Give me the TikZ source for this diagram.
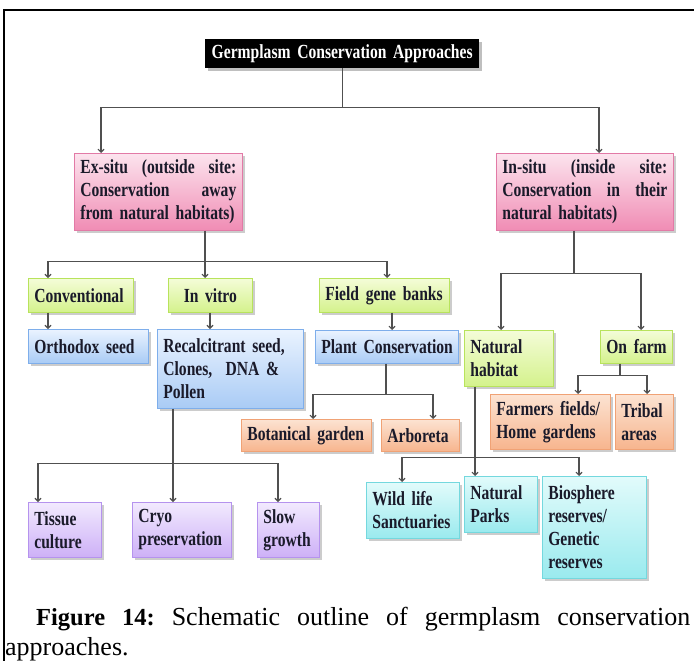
\documentclass[tikz,border=0pt]{standalone}
\usepackage{fontspec}
\setmainfont{Liberation Serif}
\newfontfamily\boxfont[FakeStretch=0.78]{Liberation Serif}
\usetikzlibrary{arrows.meta,shadows,calc}
\hyphenpenalty=10000
\exhyphenpenalty=10000
\newcommand\boxsp{\spaceskip=4pt plus 2pt minus 1pt\relax}
\definecolor{linec}{HTML}{505050}
\definecolor{txt}{HTML}{1A1A2A}
\definecolor{pinkD}{HTML}{E27AA6}\definecolor{pinkT}{HTML}{FCE4EE}\definecolor{pinkB}{HTML}{F08CB4}
\definecolor{greenD}{HTML}{B8E35C}\definecolor{greenT}{HTML}{F4FCD8}\definecolor{greenB}{HTML}{D4F28C}
\definecolor{blueD}{HTML}{7EAEEB}\definecolor{blueT}{HTML}{EAF3FF}\definecolor{blueB}{HTML}{A9CBF5}
\definecolor{orangeD}{HTML}{F0A275}\definecolor{orangeT}{HTML}{FCE3D2}\definecolor{orangeB}{HTML}{F7B58E}
\definecolor{purpleD}{HTML}{B593EE}\definecolor{purpleT}{HTML}{F2EAFE}\definecolor{purpleB}{HTML}{CDB0F7}
\definecolor{cyanD}{HTML}{74D8DE}\definecolor{cyanT}{HTML}{E2FBFB}\definecolor{cyanB}{HTML}{9AEAEE}
\newcommand\mybox[7]{%
  \pgfmathsetmacro\bw{#5-#3}%
  \pgfmathsetmacro\bh{#6-#4}%
  \pgfmathsetmacro\tw{#5-#3-12}%
  \node[#2, anchor=north west, minimum width=\bw pt, minimum height=\bh pt,
        text width=\tw pt, inner xsep=6pt, inner ysep=1pt] (#1) at (#3,#4) {#7};}
\tikzset{
  bx/.style={draw, line width=0.7pt, align=left, text=txt,
    drop shadow={shadow xshift=2.5pt, shadow yshift=-2.5pt, fill=black, opacity=0.2}},
  pinkbox/.style={bx, draw=pinkD, top color=pinkT, bottom color=pinkB},
  greenbox/.style={bx, draw=greenD, top color=greenT, bottom color=greenB},
  bluebox/.style={bx, draw=blueD, top color=blueT, bottom color=blueB},
  orangebox/.style={bx, draw=orangeD, top color=orangeT, bottom color=orangeB},
  purplebox/.style={bx, draw=purpleD, top color=purpleT, bottom color=purpleB},
  cyanbox/.style={bx, draw=cyanD, top color=cyanT, bottom color=cyanB},
  titlebox/.style={fill=black, text=white, align=center,
    drop shadow={shadow xshift=2.5pt, shadow yshift=-2.5pt, fill=black, opacity=0.25}},
  ln/.style={draw=linec, line width=1.1pt},
  arr/.style={ln, -{Straight Barb[length=3pt,width=6pt]}}
}
\begin{document}
\begin{tikzpicture}[x=1pt,y=-1pt, font=\boxfont\bfseries\fontsize{20}{23}\selectfont\boxsp]
\useasboundingbox[fill=white] (0,0) rectangle (694,661);
\draw[line width=1.3pt] (4,661) -- (4,10) -- (694,10);

\mybox{title}{titlebox}{205}{39}{479}{68}{Germplasm Conservation Approaches}
\mybox{exsitu}{pinkbox}{74}{153}{242}{230}{Ex-situ\hfill(outside\hfill site:\\Conservation\hfill away\\from natural habitats)}
\mybox{insitu}{pinkbox}{496}{153}{673}{230}{In-situ\hfill(inside\hfill site:\\Conservation\hfill in\hfill their\\natural habitats)}

\mybox{conv}{greenbox}{28}{278}{133}{312}{Conventional}
\mybox{invitro}{greenbox}{168}{278}{252}{312}{\hfill In vitro\hfill\null}
\mybox{field}{greenbox}{319}{278}{449}{312}{Field~gene~banks}

\mybox{orth}{bluebox}{28}{329}{148}{363}{Orthodox~seed}
\mybox{recal}{bluebox}{157}{329}{303}{408}{Recalcitrant~seed,\\Clones, \ DNA~\&\\Pollen}
\mybox{plant}{bluebox}{315}{330}{458}{363}{Plant~Conservation}

\mybox{bot}{orangebox}{241}{419}{371}{451}{Botanical~garden}
\mybox{arb}{orangebox}{381}{419}{459}{451}{Arboreta}

\mybox{nath}{greenbox}{464}{330}{553}{386}{Natural\\habitat}
\mybox{onfarm}{greenbox}{600}{330}{672}{363}{On~farm}
\mybox{farm}{orangebox}{490}{394}{610}{449}{Farmers~fields/\\Home~gardens}
\mybox{tribal}{orangebox}{615}{394}{673}{449}{Tribal\\areas}

\mybox{tissue}{purplebox}{28}{502}{101}{557}{Tissue\\culture}
\mybox{cryo}{purplebox}{132}{502}{231}{557}{Cryo\\preservation}
\mybox{slow}{purplebox}{257}{502}{319}{557}{Slow\\growth}

\mybox{wild}{cyanbox}{366}{482}{459}{538}{Wild~life\\Sanctuaries}
\mybox{parks}{cyanbox}{464}{476}{537}{532}{Natural\\Parks}
\mybox{bios}{cyanbox}{542}{476}{646}{578}{Biosphere\\reserves/\\Genetic\\reserves}

% connectors
\draw[ln] (title.south) -- ++(0,39) coordinate (b1);
\draw[arr] (b1) -| ([xshift=27pt]exsitu.north west);
\draw[arr] (b1) -| ([xshift=103pt]insitu.north west);

\draw[ln] ([xshift=131pt]exsitu.south west) -- ++(0,31) coordinate (b2);
\draw[arr] (b2) -| ([xshift=20pt]conv.north west);
\draw[arr] (b2) -- ([xshift=37pt]invitro.north west);
\draw[arr] (b2) -| ([xshift=68pt]field.north west);

\draw[arr] ([xshift=20pt]conv.south west) coordinate (c0) -- (c0 |- orth.north);
\draw[arr] ([xshift=42pt]invitro.south west) coordinate (c1) -- (c1 |- recal.north);
\draw[arr] ([xshift=73pt]field.south west) coordinate (c2) -- (c2 |- plant.north);

\draw[ln] ([xshift=71pt]plant.south west) -- ++(0,31) coordinate (b3);
\draw[arr] (b3) -| ([xshift=72pt]bot.north west);
\draw[arr] (b3) -| ([xshift=52pt]arb.north west);

\draw[ln] ([xshift=16pt]recal.south west) -- ++(0,55) coordinate (b4);
\draw[arr] (b4) -| ([xshift=10pt]tissue.north west);
\draw[arr] (b4) -- ([xshift=41pt]cryo.north west);
\draw[arr] (b4) -| ([xshift=21pt]slow.north west);

\draw[ln] ([xshift=78pt]insitu.south west) -- ++(0,43) coordinate (b5);
\draw[arr] (b5) -| ([xshift=37pt]nath.north west);
\draw[arr] (b5) -| ([xshift=41pt]onfarm.north west);

\draw[ln] ([xshift=20pt]onfarm.south west) -- ++(0,12) coordinate (b6);
\draw[arr] (b6) -| ([xshift=88pt]farm.north west);
\draw[arr] (b6) -| ([xshift=32pt]tribal.north west);

\draw[ln] ([xshift=11pt]nath.south west) -- ++(0,71) coordinate (b7);
\draw[arr] (b7) -| ([xshift=36pt]wild.north west);
\draw[arr] (b7) -- ([xshift=11pt]parks.north west);
\draw[arr] (b7) -| ([xshift=37pt]bios.north west);

% caption
\node[anchor=base west, inner sep=0pt, font=\rmfamily\fontsize{26}{30}\selectfont] (cap1) at (36,625)
  {\hbox to 654pt{{\fontsize{24.5}{28}\selectfont\bfseries Figure\hfill 14:}\hfill Schematic\hfill outline\hfill of\hfill germplasm\hfill conservation}};
\node[anchor=base west, inner sep=0pt, font=\rmfamily\fontsize{26}{30}\selectfont] (cap2) at (5,655) {approaches.};
\end{tikzpicture}
\end{document}
